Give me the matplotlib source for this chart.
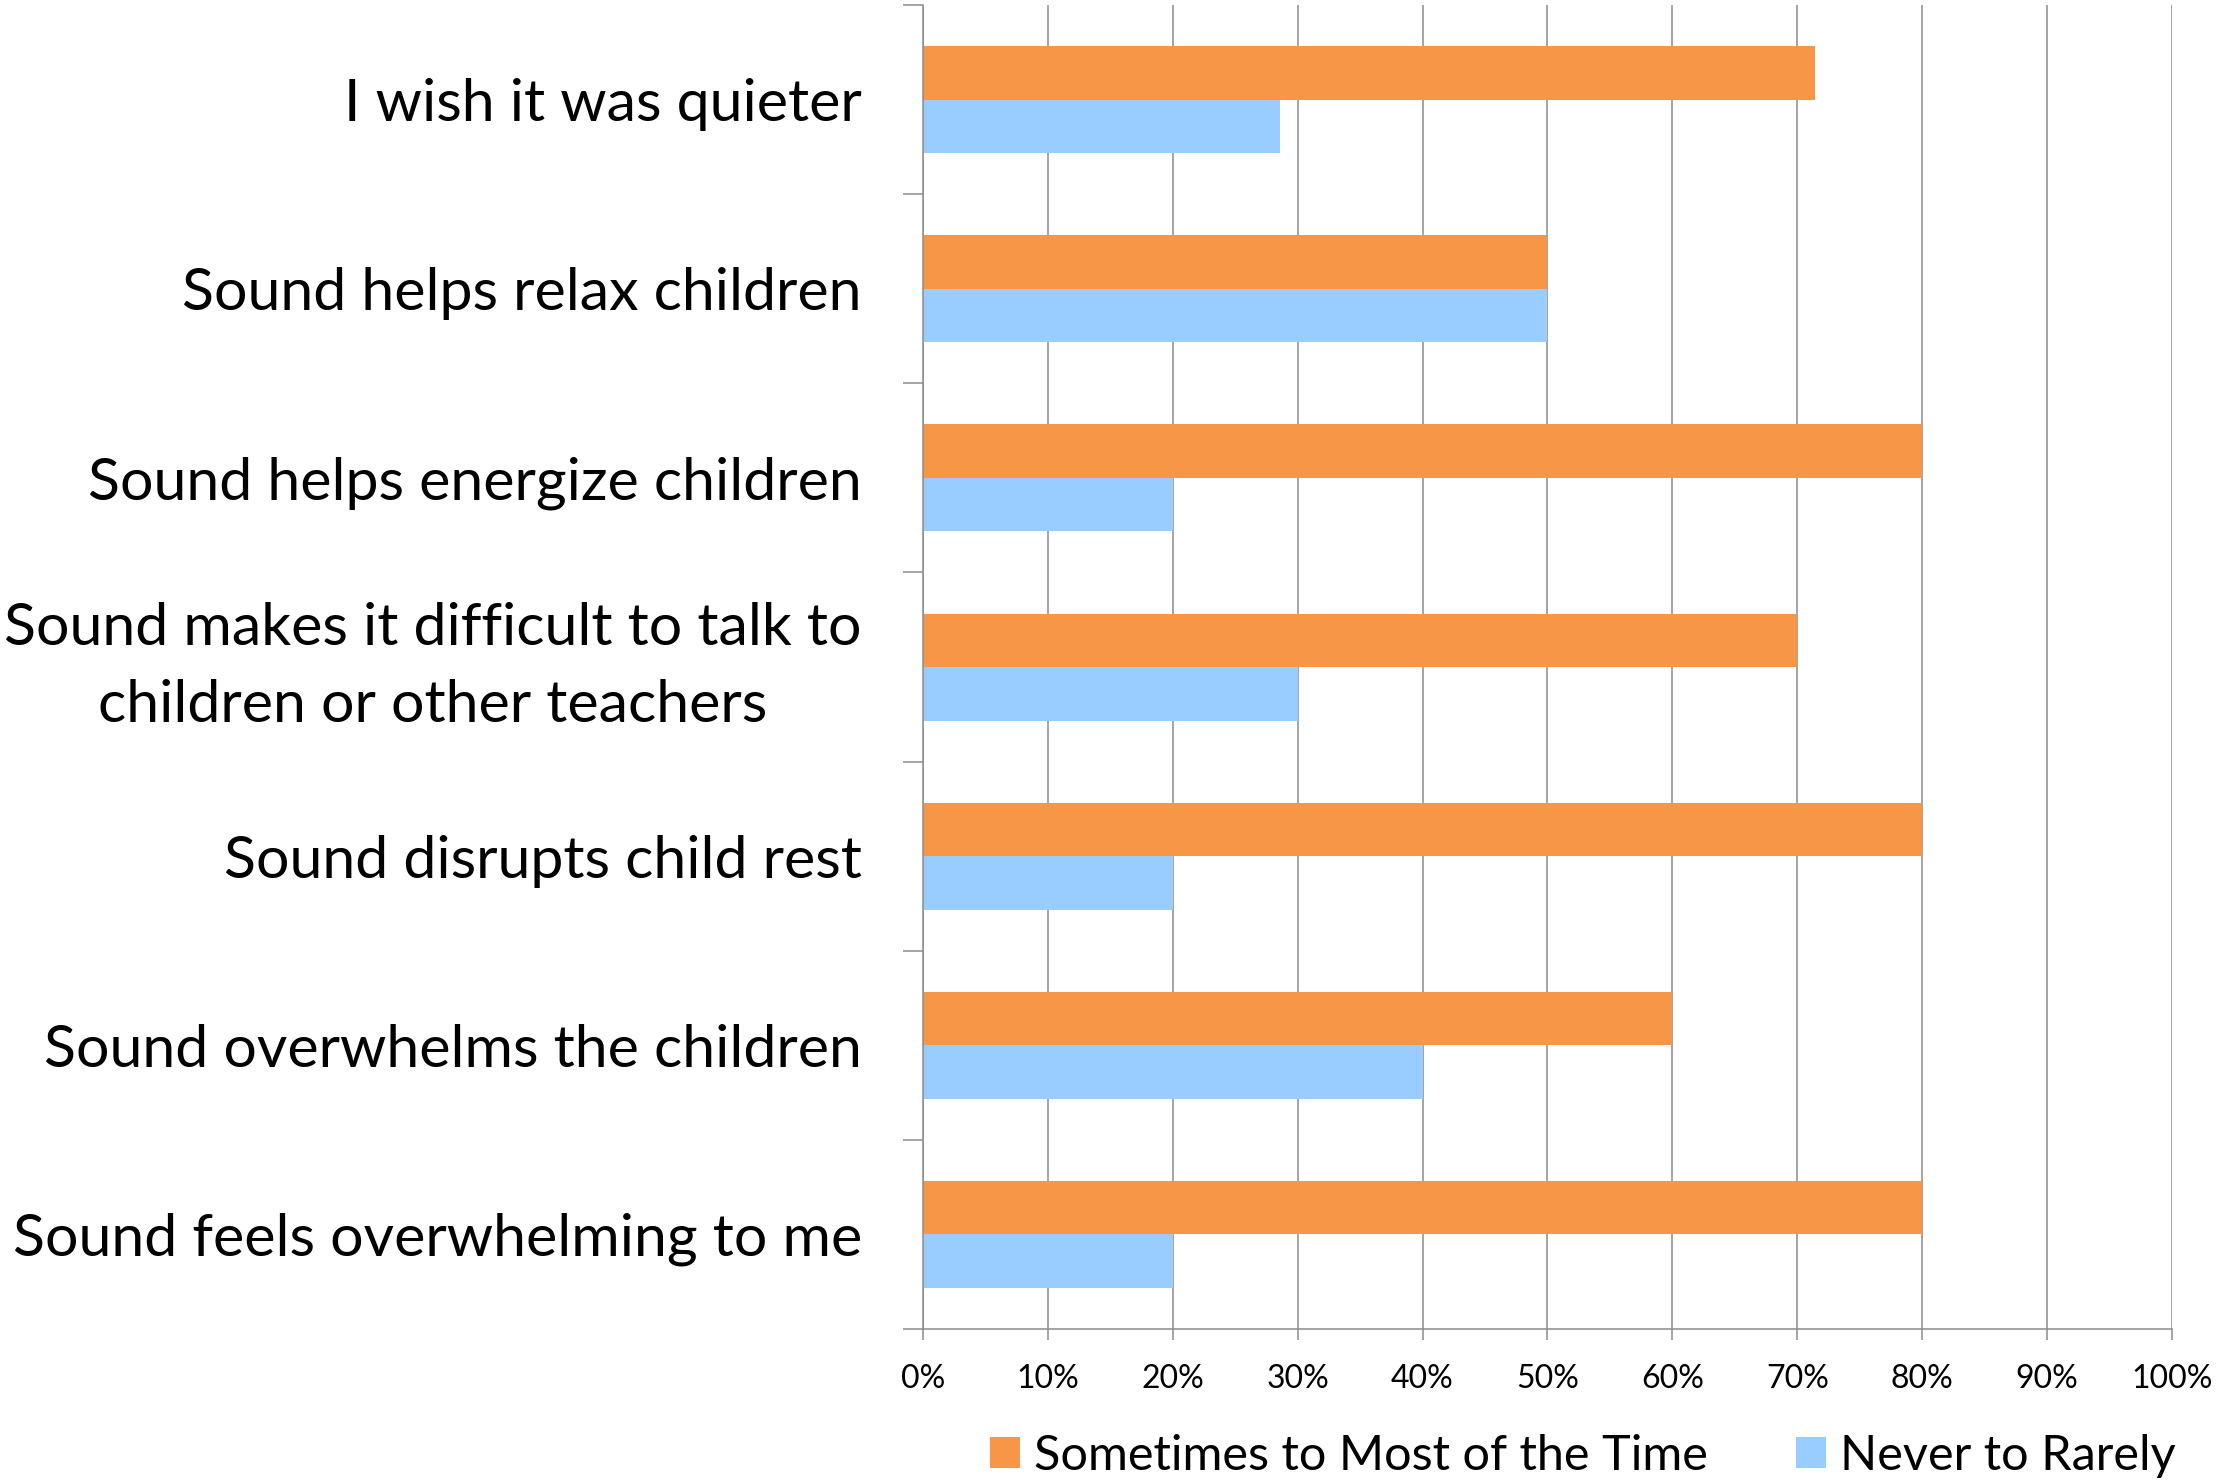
import matplotlib
matplotlib.use("Agg")
import matplotlib.pyplot as plt
from matplotlib.patches import Patch
from matplotlib.ticker import FixedLocator, PercentFormatter
import numpy as np

categories = [
    "I wish it was quieter",
    "Sound helps relax children",
    "Sound helps energize children",
    "Sound makes it difficult to talk to\nchildren or other teachers",
    "Sound disrupts child rest",
    "Sound overwhelms the children",
    "Sound feels overwhelming to me",
]
sometimes_most = [71.4, 50, 80, 70, 80, 60, 80]
never_rarely = [28.6, 50, 20, 30, 20, 40, 20]
series_names = ["Sometimes to Most of the Time", "Never to Rarely"]
x_ticks = [0, 10, 20, 30, 40, 50, 60, 70, 80, 90, 100]

ORANGE = "#F79646"
BLUE = "#99CCFF"
GRAY = "#8C8C8C"

plt.rcParams["font.family"] = ["Lato", "DejaVu Sans"]

fig = plt.figure(figsize=(22.17, 14.80), dpi=100)
ax = fig.add_axes([0.4163, 0.1020, 0.5634, 0.8946])

y = np.arange(len(categories))
h = 0.283
ax.barh(y - h / 2, sometimes_most, height=h, color=ORANGE, zorder=2)
ax.barh(y + h / 2, never_rarely, height=h, color=BLUE, zorder=2)

ax.set_xlim(0, 100)
ax.set_ylim(len(categories) - 0.5, -0.5)
ax.set_axisbelow(True)

ax.xaxis.set_major_locator(FixedLocator(x_ticks))
ax.xaxis.set_major_formatter(PercentFormatter(decimals=0))
ax.grid(axis="x", color=GRAY, linewidth=1.1, zorder=0)

ax.set_yticks(y)
ax.set_yticklabels(categories)
ax.yaxis.set_minor_locator(FixedLocator(np.arange(-0.5, len(categories), 1.0)))
ax.tick_params(axis="y", which="major", length=0, pad=44, labelsize=42.5)
ax.tick_params(axis="y", which="minor", length=14.4, width=1.1, color=GRAY)
ax.tick_params(axis="x", which="major", length=8, width=1.1, color=GRAY,
               labelsize=23, pad=17)
for lab in ax.get_yticklabels():
    lab.set_multialignment("center")
    if "\n" in lab.get_text():
        lab.set_linespacing(1.55)
        lab.set_verticalalignment("center")

for side in ["top", "right"]:
    ax.spines[side].set_visible(False)
for side in ["left", "bottom"]:
    ax.spines[side].set_color(GRAY)
    ax.spines[side].set_linewidth(1.1)

handles = [Patch(facecolor=ORANGE, edgecolor="none"),
           Patch(facecolor=BLUE, edgecolor="none")]
fig.legend(handles, series_names, loc="lower center",
           bbox_to_anchor=(0.714, -0.028), ncol=2, frameon=False,
           fontsize=35, handlelength=0.62, handleheight=0.62,
           handletextpad=0.3, columnspacing=1.8)

fig.savefig("out.png", dpi=100)
